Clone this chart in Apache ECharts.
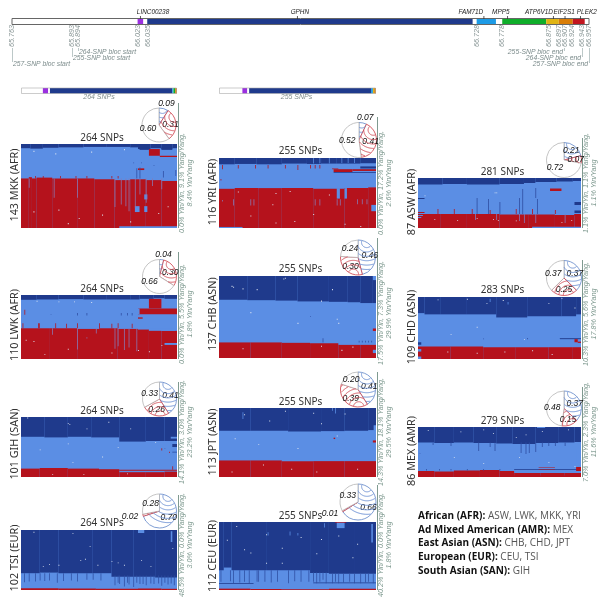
<!DOCTYPE html>
<html><head><meta charset="utf-8">
<style>html,body{margin:0;padding:0;background:#fff}#c{width:608px;height:601px}</style>
<script src="https://cdn.jsdelivr.net/npm/echarts@6/dist/echarts.min.js"></script>
</head><body><div id="c"></div>
<script>
// ---------- gene track data (genomic position, Mb) ----------
var geneBlocks=[[65.763,66.023,'w'],[66.023,66.035,'p'],[66.035,66.043,'w'],[66.043,66.717,'b'],[66.717,66.725,'w'],[66.725,66.765,'c'],[66.765,66.778,'w'],[66.778,66.869,'g'],[66.869,66.895,'y'],[66.895,66.924,'o'],[66.924,66.949,'r'],[66.949,66.957,'w']];
var geneTicks=[66.029,66.354,66.740,66.789,66.884,66.908,66.940];
var geneNamePositions=[66.055,66.359,66.713,66.775,66.854,66.906,66.953];
var geneNames=['LINC00238','GPHN','FAM71D','MPP5','ATP6V1D','EIF2S1','PLEK2'];
var tickPositions=[65.763,65.887,65.899,66.023,66.045,66.725,66.778,66.875,66.895,66.907,66.922,66.943,66.957];
var tickLabels=['65.763','65.893','65.894','66.023','66.035','66.728','66.778','66.875','66.897','66.907','66.924','66.943','66.957'];
var mini264=[[0,37,'w'],[37,46,'p'],[46,49,'w'],[49,256,'b'],[256,258,'c'],[258,261,'g'],[261,264,'o']];
var mini255=[[0,38,'w'],[38,46,'p'],[46,49,'w'],[49,247,'b'],[247,250,'c'],[250,252,'y'],[252,255,'o']];

// ---------- panel data: x and y are % of the haplotype panel ----------
var mkkDark=[[0,5],[6,5.5],[14,4.5],[24,4],[40,3.5],[55,3.5],[70,4],[75,6],[83,5],[90,6],[97,5]];
var mkkRed=[[0,41],[5,39.5],[7,41],[10,40],[20,41],[36,41],[47,42],[60,43],[70,42],[80,43],[90,44]];
var mkkBlocks=[[82,89,6,14,2],[89,100,14,15.5,2],[75,79,29,31,2],[63,100,98,100,1],[73,76,74,81,1],[79,81,74,81,1],[79,81,60,66,1],[76,82,4,7,0],[90,97,4,7,0]];
var mkkSpikes=[[9,38,41,2],[14,38,41,2],[25,38,41,2],[35,38,41,2],[42,38,41,2],[58,38,41,2],[62,38,41,2],[21,41,64,1],[36,41,64,1],[60,41,75,1],[64,41,72,1],[67,41,74,1],[69,41,80,1],[73,41,76,1],[76,41,60,1],[80,41,70,1],[84,41,50,1],[90,41,54,1],[5,41,52,1],[74,29,41,0],[76,28,41,0],[72,22,23,0],[77,22,23,0],[85,25,26,0],[91,32,40,0],[99,31,38,0]];
var mkkSpecks=[[8,8],[22,11],[45,9],[66,6],[8,80],[24,78],[37,88],[52,84],[70,92],[88,82],[94,74],[30,94]];

var lwkDark=[[0,7.5],[10,7],[24,6.5],[40,7],[55,7],[70,7],[76,6],[85,5],[92,6]];
var lwkRed=[[0,52],[18,52],[36,53],[50,52],[62,53],[75,54],[82,54],[90,56]];
var lwkBlocks=[[82,90,6,21,2],[75,100,21,30,2],[75,78,35,37,2],[82,99,53,56,1],[92,100,75,78,1],[75,76,21,30,1]];
var lwkSpikes=[[1,44,52,2],[11,44,52,2],[11.5,44,52,2],[22,44,52,2],[29,45,52,2],[36,44,52,2],[50,44,52,2],[58,45,52,2],[62,44,52,2],[71,45,52,2],[2.2,23,31,2],[36,52,85,1],[60,52,84,1],[62,52,80,1],[66,52,86,1],[69,52,82,1],[74,52,88,1],[20,52,62,1],[48,52,60,1],[36,28,32,0],[42,28,32,0],[64,28,32,0],[68,28,32,0],[71,28,32,0],[19,30,31,0],[42,66,68,1]];
var lwkSpecks=[[10,9],[24,10],[34,10],[45,11],[8,72],[3,70],[30,84],[58,90],[75,86],[90,78],[82,88],[15,92]];

var gihDark=[[0,33],[15,34],[30,33],[45,34],[63,41],[80,40],[92,40]];
var gihRed=[[0,86],[12,85],[30,86],[50,87],[63,92],[80,92],[92,91]];
var gihBlocks=[[97,100,45,50,0],[96,100,33,36,1],[63,100,88,89.5,2],[97,100,58,59,0]];
var gihSpikes=[[90,52,56,2],[92,52,53,0],[95,58,60,2],[97,82,88,2]];
var gihSpecks=[[4,1],[30,10],[31,12],[42,19],[56,8],[70,19],[12,54],[30,44],[52,66],[62,50],[86,42],[40,95],[68,94],[20,95],[33,75]];

var tsiDark=[[0,72],[12,71],[24,72],[46,72],[58,78],[72,78],[86,79]];
var tsiRed=[[0,97],[24,97.5],[48,98],[75,97.5],[90,98]];
var tsiBlocks=[[75,79,0,5,1],[96,97,2,20,1]];
var tsiSpikes=[[2,72,87,0],[5,72,86,0],[9,72,86,0],[12,72,84,0],[15,72,85,0],[18,72,84,0],[23,72,88,0],[27,72,85,0],[32,72,84,0],[36,72,86,0],[42,72,83,0],[46,72,83,0],[51,72,84,0],[60,76,92,0],[62,76,88,0],[63,76,90,0],[66,76,94,0],[68,76,88,0],[69,76,91,0],[72,76,95,0],[74,76,88,0],[76,76,90,0],[78,76,90,0],[80,76,92,0],[83,76,89,0],[85,76,90,0],[88,76,89,0],[90,76,93,0],[92,76,88,0],[94,76,91,0],[96,76,89,0],[98,76,92,0]];
var tsiSpecks=[[8,3],[33,5],[44,27],[41,48],[38,50],[18,57],[14,60],[24,58],[49,58],[58,52],[62,54],[66,58],[77,50],[83,60],[97,30]];

var yriDark=[[0,9],[10,8.5],[24,9],[40,8],[56,8.5],[65,8],[75,8],[90,7.5]];
var yriRed=[[0,44],[10,43],[25,43],[40,43],[60,44],[80,43],[95,42]];
var yriBlocks=[[73,85,16,20,2],[85,100,16,18.5,2],[73,100,20,21,0],[75,77,43,58,1],[80,81.5,43,58,1],[97,100,67,76,1],[0,15,98.5,100,1],[90,100,12,15,0],[72,76,15,16,2]];
var yriSpikes=[[2,10,16,2],[12,10,15,2],[23,10,15,2],[31,10,15,2],[42,10,15,2],[50,10,17,2],[58,10,15,2],[61,10,15,2],[64,10,15,2],[1,30,32,2],[60,0,8,1],[64,0,8,1],[70,0,8,1],[78,0,7,1],[82,0,7,1],[86,0,7,1],[20,59,68,1],[22,59,68,1],[61,59,68,1],[64,59,68,1],[75,59,68,1],[77,59,68,1],[88,59,66,1],[91,59,66,1],[94,59,66,1],[2,60,62,1],[9,59,68,1]];
var yriSpecks=[[12,48],[36,50],[34,66],[20,82],[48,90],[36,92],[60,80],[80,94],[90,97],[70,52],[45,47]];

var chbDark=[[0,29],[18,29.5],[36,30],[50,31],[70,31.5],[82,32],[90,33],[98,33]];
var chbRed=[[0,81],[20,81],[40,81.5],[58,82],[76,84],[90,84]];
var chbBlocks=[[98,100,64,67,2],[98,100,90,94,1],[98,100,0,5,1]];
var chbSpikes=[[89,79,81,0],[91,79,81,0],[93,79,81,0],[95,79,81,0],[97,79,81,0],[66,76,81,0],[58,49,50,0]];
var chbSpecks=[[8,12],[9,13],[15,15],[24,16],[41,3],[42,2],[72,16],[65,30],[20,44],[50,57],[75,52],[76,57],[65,85],[15,88],[78,90],[85,86]];

var jptDark=[[0,33],[20,33],[44,34],[65,33.5],[80,33],[95,32]];
var jptRed=[[0,76],[20,76],[40,77],[60,77],[80,77]];
var jptBlocks=[[98.5,100,25,33,1],[98,100,47,50,2],[73,74,43,45,2]];
var jptSpikes=[[15,6,16,1],[72,0,4,1],[74,0,8,1]];
var jptSpecks=[[16,9],[32,18],[42,4],[60,7],[65,22],[80,8],[25,52],[10,44],[50,58],[75,40],[28,82],[46,88],[62,92],[8,92],[88,88]];

var ceuDark=[[0,71],[3,67],[8,71],[30,71],[58,75],[70,76],[86,76]];
var ceuRed=[[0,98],[20,98.5],[40,99],[70,98]];
var ceuBlocks=[[75,80,0,9,1],[74,81,0,1,2],[97,98,3,30,1],[0,22,90,91,0],[60,100,89,90,0]];
var ceuSpikes=[[1,71,88,0],[7,71,87,0],[9,71,90,0],[13,71,89,0],[16,71,88,0],[19,71,90,0],[24,71,88,0],[25,71,88,0],[29,71,88,0],[33,71,89,0],[37,71,88,0],[44,71,90,0],[48,71,87,0],[52,71,88,0],[57,71,88,0],[60,74,88,0],[62,74,90,0],[64,74,88,0],[66,74,85,0],[68,74,90,0],[72,76,90,0],[74,76,88,0],[76,76,90,0],[79,76,89,0],[83,76,88,0],[86,76,90,0],[90,76,90,0],[93,76,89,0],[95,76,88,0],[98,76,90,0],[67,2,8,1],[31,15,20,1],[45,14,20,1],[50,16,20,1]];
var ceuSpecks=[[11,6],[30,18],[16,40],[20,45],[40,38],[40,60],[52,22],[62,46],[85,52],[65,25],[76,20],[88,32],[5,26],[30,60]];

var aswDark=[[0,13],[15,12],[30,13],[50,12],[65,10],[72,8],[85,7],[95,6]];
var aswRed=[[0,72],[14,72],[30,72],[50,73],[68,73],[84,74],[96,72]];
var aswBlocks=[[81,88,21,26,2],[0,4,68,70,2],[0,3,74,76,1],[0,2,78,80,1],[70,100,97.5,100,1],[96,100,65,70,0],[96,100,72,76,2],[96,100,48,54,0],[0,4,40,42,0]];
var aswSpikes=[[36,40,72,0],[43,42,72,0],[50,48,72,0],[62,40,72,0],[64,22,72,0],[73,42,72,0],[72,20,40,0],[65,72,90,1],[35,72,84,1],[48,72,84,1],[62,72,86,1],[72,72,90,1],[90,72,90,1],[12,62,72,2],[22,62,72,2],[33,62,72,2],[44,64,72,2],[60,62,72,2],[70,62,72,2],[84,64,72,2]];
var aswSpecks=[[10,82],[24,84],[36,80],[46,82],[49,84],[60,85],[88,88],[94,84],[47,29],[48,29],[4,35]];

var chdDark=[[0,26],[4,28],[14,28],[30,28],[48,33],[67,31],[88,31],[97,28]];
var chdRed=[[0,80],[20,80],[40,81],[60,81],[80,81],[95,81]];
var chdBlocks=[[0,2,73,77,0],[87,100,66.5,68,0],[96,98,68,73,2],[98,100,74,80,1],[98,100,72,74,2],[0,2,96,100,1],[0,2,84,88,1],[97,100,83,90,2]];
var chdSpikes=[[44,3,8,1],[55,8,12,1],[40,67,68,0],[67,66,68,0]];
var chdSpecks=[[12,4],[30,3],[42,10],[52,5],[80,10],[88,2],[96,17],[20,60],[36,48],[65,68],[36,90],[18,88],[53,88],[70,86],[82,92]];

var mexDark=[[0,31],[10,32],[22,31],[34,32],[48,33],[58,34],[72,32],[86,31],[96,30]];
var mexRed=[[0,88],[10,89],[22,87],[38,86],[50,88],[59,92],[75,92],[90,92]];
var mexBlocks=[[59,100,84,85.5,0],[59,100,89,90,1],[74,84,80,81,2],[74,84,85,86,2],[73,78,0,2,1],[97,100,80,88,2],[59,100,97,100,2]];
var mexSpikes=[[9,31,36,0],[20,31,38,0],[37,31,48,0],[44,31,40,0],[47,31,48,0],[63,31,52,0],[66,31,54,0],[68,31,52,0],[72,31,50,0],[76,31,40,0],[80,31,38,0],[84,31,38,0],[90,31,38,0],[5,84,87,0],[13,84,87,0],[20,84,87,0],[30,84,87,0],[40,84,87,0],[50,84,87,0],[97,44,70,1],[1,52,53,0]];
var mexSpecks=[[6,6],[26,9],[40,5],[46,12],[60,20],[66,15],[76,8],[92,5],[22,60],[40,72],[62,60],[80,70],[96,78]];

// ---------- LD pies (Yang/Yang share, Yin/Yin share, white share) ----------
var mkkPie=[0.09,0.31,0.60], lwkPie=[0.04,0.30,0.66], gihPie=[0.41,0.26,0.33], tsiPie=[0.70,0.02,0.28];
var yriPie=[0.07,0.41,0.52], chbPie=[0.46,0.30,0.24], jptPie=[0.41,0.39,0.20], ceuPie=[0.66,0.01,0.33];
var aswPie=[0.21,0.07,0.72], chdPie=[0.37,0.25,0.37], mexPie=[0.37,0.15,0.48];

// ---------- texts ----------
var legendHeads=['African (AFR):','Ad Mixed American (AMR):','East Asian (ASN):','European (EUR):','South Asian (SAN):'];
var legendItems=['ASW, LWK, MKK, YRI','MEX','CHB, CHD, JPT','CEU, TSI','GIH'];

// ---------- layout and style ----------
var palette=['#1f3a8c','#5b8ee4','#b5121c','#dfe6f2','#8a78b2','#2f4fa3'];
var geneColors={w:'#ffffff',p:'#9b30e0',b:'#1f3a8c',c:'#1d9be6',g:'#0fae2a',y:'#e0b414',o:'#d97d06',r:'#c2141e'};
var panels=[
 {n:'143 MKK (AFR)',snp:'264 SNPs',x:21,y:144,w:156,h:84,ax:178,at:103,lx:15,ly:185,ty:138,pc:[159,125],r:17,dark:mkkDark,red:mkkRed,blocks:mkkBlocks,spikes:mkkSpikes,specks:mkkSpecks,pie:mkkPie,s:'0.0% Yin/Yin, 9.1% Yang/Yang,\n8.4% Yin/Yang'},
 {n:'110 LWK (AFR)',snp:'264 SNPs',x:21,y:295,w:156,h:64,ax:178,at:252,lx:15,ly:325,ty:289,pc:[159.5,276.5],r:17,dark:lwkDark,red:lwkRed,blocks:lwkBlocks,spikes:lwkSpikes,specks:lwkSpecks,pie:lwkPie,s:'0.0% Yin/Yin, 5.5% Yang/Yang,\n1.8% Yin/Yang'},
 {n:'101 GIH (SAN)',snp:'264 SNPs',x:21,y:417,w:156,h:60,ax:178,at:382,lx:15,ly:444,ty:411,pc:[159.5,399],r:17,dark:gihDark,red:gihRed,blocks:gihBlocks,spikes:gihSpikes,specks:gihSpecks,pie:gihPie,s:'14.1% Yin/Yin, 3.0% Yang/Yang,\n23.2% Yin/Yang'},
 {n:'102 TSI (EUR)',snp:'264 SNPs',x:21,y:530,w:156,h:60,ax:178,at:495,lx:15,ly:558,ty:523,pc:[159.5,511],r:17,dark:tsiDark,red:tsiRed,blocks:tsiBlocks,spikes:tsiSpikes,specks:tsiSpecks,pie:tsiPie,s:'48.5% Yin/Yin, 0.0% Yang/Yang,\n3.0% Yin/Yang'},
 {n:'116 YRI (AFR)',snp:'255 SNPs',x:219,y:158,w:157,h:70,ax:377,at:117,lx:213,ly:192,ty:151,pc:[359,140],r:17.5,dark:yriDark,red:yriRed,blocks:yriBlocks,spikes:yriSpikes,specks:yriSpecks,pie:yriPie,s:'0.0% Yin/Yin, 17.2% Yang/Yang,\n2.6% Yin/Yang'},
 {n:'137 CHB (ASN)',snp:'255 SNPs',x:219,y:276,w:157,h:82,ax:377,at:238,lx:213,ly:314,ty:269,pc:[358,257.5],r:17.5,dark:chbDark,red:chbRed,blocks:chbBlocks,spikes:chbSpikes,specks:chbSpecks,pie:chbPie,s:'17.5% Yin/Yin, 7.3% Yang/Yang,\n29.9% Yin/Yang'},
 {n:'113 JPT (ASN)',snp:'255 SNPs',x:219,y:408,w:157,h:69,ax:377,at:372,lx:213,ly:442,ty:402,pc:[358,389.5],r:17.5,dark:jptDark,red:jptRed,blocks:jptBlocks,spikes:jptSpikes,specks:jptSpecks,pie:jptPie,s:'14.3% Yin/Yin, 18.1% Yang/Yang,\n29.5% Yin/Yang'},
 {n:'112 CEU (EUR)',snp:'255 SNPs',x:219,y:522,w:157,h:68,ax:377,at:485,lx:213,ly:556,ty:516,pc:[358,502],r:18,dark:ceuDark,red:ceuRed,blocks:ceuBlocks,spikes:ceuSpikes,specks:ceuSpecks,pie:ceuPie,s:'40.2% Yin/Yin, 0.0% Yang/Yang,\n1.8% Yin/Yang'},
 {n:'87 ASW (AFR)',snp:'281 SNPs',x:418,y:178,w:163,h:50,ax:582,at:138,lx:412,ly:202,ty:172,pc:[564,160],r:17.5,dark:aswDark,red:aswRed,blocks:aswBlocks,spikes:aswSpikes,specks:aswSpecks,pie:aswPie,s:'1.1% Yin/Yin, 1.1% Yang/Yang,\n1.1% Yin/Yang'},
 {n:'109 CHD (ASN)',snp:'283 SNPs',x:418,y:297,w:163,h:62,ax:582,at:260,lx:412,ly:327,ty:290,pc:[564,278],r:17.5,dark:chdDark,red:chdRed,blocks:chdBlocks,spikes:chdSpikes,specks:chdSpecks,pie:chdPie,s:'10.3% Yin/Yin, 5.6% Yang/Yang,\n17.8% Yin/Yang'},
 {n:'86 MEX (AMR)',snp:'279 SNPs',x:418,y:427,w:163,h:50,ax:582,at:387,lx:412,ly:451,ty:421,pc:[564,408.5],r:17.5,dark:mexDark,red:mexRed,blocks:mexBlocks,spikes:mexSpikes,specks:mexSpecks,pie:mexPie,s:'7.0% Yin/Yin, 2.3% Yang/Yang,\n11.6% Yin/Yang'}
];

var grids=[],xAxes=[],yAxes=[],series=[],graphics=[];
function addGrid(l,t,w,h,xmin,xmax,ymin,ymax,inv){
  grids.push({left:l,top:t,width:w,height:h,containLabel:false});
  xAxes.push({type:'value',gridIndex:grids.length-1,min:xmin,max:xmax,show:false});
  yAxes.push({type:'value',gridIndex:grids.length-1,min:ymin,max:ymax,show:false,inverse:!!inv});
  return grids.length-1;
}
function stepRows(steps,fromTop){
  return steps.map(function(s,i){var end=i+1<steps.length?steps[i+1][0]:100;
    return fromTop?[s[0],end,0,s[1]]:[s[0],end,s[1],100];});
}
function text(x,y,t,size,fill,o){
  o=o||{};
  graphics.push({type:'text',x:x,y:y,rotation:o.rot||0,silent:true,z:20,style:{text:t,fontSize:size,fontFamily:o.fam||'"Liberation Sans"',fontStyle:o.ital?'italic':'normal',fontWeight:o.w||'normal',fill:fill,align:o.align||'center',verticalAlign:'middle',lineHeight:o.lh,rich:o.rich}});
}
function vline(x,y0,y1,col,wd){graphics.push({type:'line',silent:true,z:5,shape:{x1:x,y1:y0,x2:x,y2:y1},style:{stroke:col,lineWidth:wd||1}});}

// gene track: y axis counts pixels of the top strip
var gg=addGrid(0,0,608,100,65.763-12/483,65.763+596/483,0,100,true);
function blockRows(list,y0,y1){return list.map(function(b){return [b[0],b[1],y0,y1,b[2]];});}
var trackDim=['x0','x1','y0','y1','k'];
function geneRect(p,api){
  var a=api.coord([api.value(0),api.value(2)]),b=api.coord([api.value(1),api.value(3)]);
  return {type:'rect',shape:{x:a[0],y:a[1],width:b[0]-a[0],height:b[1]-a[1]},style:{fill:geneColors[api.value(4)]}};
}
series.push({type:'custom',xAxisIndex:gg,yAxisIndex:gg,silent:true,z:4,dimensions:trackDim,encode:{x:[0,1],y:[2,3]},
  data:blockRows(geneBlocks,19,24),renderItem:geneRect});
graphics.push({type:'rect',silent:true,z:6,shape:{x:12,y:18.5,width:577,height:6},style:{fill:'none',stroke:'#666',lineWidth:1}});
series.push({type:'custom',xAxisIndex:gg,yAxisIndex:gg,silent:true,z:7,dimensions:['x','t'],encode:{x:0},
  data:tickPositions.map(function(v,i){return [v,tickLabels[i]];}),
  renderItem:function(p,api){
    var c=api.coord([api.value(0),36]);
    return {type:'text',x:c[0],y:c[1],rotation:Math.PI/2,style:{text:tickLabels[p.dataIndex],fontSize:7.2,fontStyle:'italic',fontFamily:'"Liberation Sans"',fill:'#8a9797',align:'center',verticalAlign:'middle'}};
  }});
series.push({type:'custom',xAxisIndex:gg,yAxisIndex:gg,silent:true,z:7,dimensions:['x','nx'],encode:{x:0},
  data:geneTicks.map(function(v,i){return [v,geneNamePositions[i]];}),
  renderItem:function(p,api){
    var t=api.coord([api.value(0),19]),c=api.coord([api.value(1),12.5]);
    return {type:'group',children:[
      {type:'line',shape:{x1:t[0],y1:16,x2:t[0],y2:t[1]},style:{stroke:'#333',lineWidth:.8}},
      {type:'text',x:c[0],y:c[1],style:{text:geneNames[p.dataIndex],fontSize:6.4,fontStyle:'italic',fontFamily:'"Liberation Sans"',fill:'#222',align:'center',verticalAlign:'middle'}}
    ]};
  }});
// bloc annotations
var blocNotes=[['257-SNP bloc start',13,64.5,'left'],['255-SNP bloc start',73,58.5,'left'],['264-SNP bloc start',79,52.5,'left'],['255-SNP bloc end',563,52.5,'right'],['264-SNP bloc end',581,58.5,'right'],['257-SNP bloc end',588,64.5,'right']];
blocNotes.forEach(function(b){text(b[1],b[2],b[0],6.8,'#7a8a8a',{ital:true,align:b[3]});});
vline(12.5,48,62,'#bcc8c8');vline(72.5,48,57,'#bcc8c8');vline(78.5,48,51,'#bcc8c8');
vline(564.5,48,51,'#bcc8c8');vline(582.5,48,57,'#bcc8c8');vline(589.5,48,63,'#bcc8c8');

// mini tracks
[[21,156,264,mini264,'264 SNPs'],[219,157,255,mini255,'255 SNPs']].forEach(function(m){
  var g=addGrid(m[0],88,m[1],5.5,0,m[2],0,1,true);
  series.push({type:'custom',xAxisIndex:g,yAxisIndex:g,silent:true,z:4,dimensions:trackDim,encode:{x:[0,1],y:[2,3]},
    data:blockRows(m[3],0,1),renderItem:geneRect});
  graphics.push({type:'rect',silent:true,z:6,shape:{x:m[0]+.5,y:88,width:m[1]-1,height:5.5},style:{fill:'none',stroke:'#aaa',lineWidth:.6}});
  text(m[0]+m[1]/2-(m[0]===21?0:1),97.5,m[4],7,'#7f8c8c',{ital:true});
});

// haplotype panels + pies
function panelRect(p,api){
  var a=api.coord([api.value(0),api.value(2)]),b=api.coord([api.value(1),api.value(3)]);
  return {type:'rect',shape:{x:a[0],y:a[1],width:b[0]-a[0],height:b[1]-a[1]},style:{fill:palette[api.value(4)]}};
}
panels.forEach(function(P){
  var g=addGrid(P.x,P.y,P.w,P.h,0,100,0,100,true);
  var rows=[[0,100,0,100,1]];
  stepRows(P.dark,true).forEach(function(r){rows.push(r.concat(0));});
  stepRows(P.red,false).forEach(function(r){rows.push(r.concat(2));});
  P.blocks.forEach(function(b){rows.push(b);});
  P.spikes.forEach(function(s){
    var c=s[3];
    if(c===1&&s[1]>=P.red[0][1]-3)c=4;   // light streaks over red read as a muted mix
    else if(c===0)c=5;                   // dark streaks over light
    rows.push([s[0],s[0]+0.5,s[1],s[2],c]);
  });
  P.specks.forEach(function(s){rows.push([s[0],s[0]+0.6,s[1],s[1]+1.4,3]);});
  series.push({type:'custom',xAxisIndex:g,yAxisIndex:g,silent:true,z:3,progressive:0,dimensions:['x0','x1','y0','y1','c'],encode:{x:[0,1],y:[2,3]},data:rows,renderItem:panelRect});

  vline(P.ax+.5,P.at,P.y+P.h,'#7f9a90');
  text(P.lx,P.ly,P.n,10.8,'#333',{rot:Math.PI/2,fam:'"Noto Sans"'});
  text(P.x+P.w/2+3,P.ty,P.snp,10,'#333',{fam:'"Noto Sans"'});
  text(P.ax+8,P.y+P.h-45,P.s,7.2,'#7f9a90',{rot:Math.PI/2,ital:true,lh:8});

  // pie: wedges start at 12 o'clock, clockwise
  var cols=['#5f85c8','#cc3a44','#b5b5b5'];
  series.push({type:'pie',center:P.pc,radius:[0,P.r],startAngle:90,clockwise:true,silent:true,z:8,animation:false,avoidLabelOverlap:false,minAngle:0,percentPrecision:2,
    labelLayout:function(o){var v=P.pie[o.dataIndex];return (o.dataIndex===0&&v<0.1)?{dx:-7}:{};},
    data:P.pie.map(function(v,i){var small=(v<0.05)||(i===0&&v<0.1);return {value:v,
      itemStyle:{color:'#fff',borderColor:cols[i],borderWidth:.8},
      label:{show:true,position:small?'outside':'inside',formatter:function(o){return o.value.toFixed(2);},fontSize:8.5,fontStyle:'italic',fontFamily:'"Liberation Sans"',color:'#111',distanceToLabelLine:0},
      labelLine:{show:false,length:small?5:1,length2:0}};})});

  // contour arcs inside the two coloured wedges, on a small unit grid over the pie
  var pg=addGrid(P.pc[0]-P.r,P.pc[1]-P.r,2*P.r,2*P.r,-1,1,-1,1,false);
  var acc=0,wedges=[];
  var total=P.pie[0]+P.pie[1]+P.pie[2];
  [0,1].forEach(function(i){wedges.push([acc,acc+P.pie[i]/total,i]);acc+=P.pie[i]/total;});
  series.push({type:'custom',xAxisIndex:pg,yAxisIndex:pg,silent:true,z:9,dimensions:['s','e','c'],encode:{x:0},data:wedges,
    renderItem:function(p,api){
      var s=api.value(0)*2*Math.PI,e=api.value(1)*2*Math.PI,col=api.value(2)?'#d4525c':'#6f93d6';
      var d=Math.min((e-s)*.35,Math.PI/6),cx=Math.sin(s+d),cy=Math.cos(s+d),ch=[];
      [.3,.55,.8,1.05,1.3,1.55].forEach(function(rad){
        var seg=[];
        function flush(){if(seg.length>1)ch.push({type:'polyline',shape:{points:seg},style:{stroke:col,lineWidth:1,fill:'none'}});seg=[];}
        for(var k=0;k<=240;k++){
          var t=k/240*2*Math.PI,x=cx+rad*Math.sin(t),y=cy+rad*Math.cos(t);
          var a=Math.atan2(x,y);if(a<0)a+=2*Math.PI;
          if(x*x+y*y<=.97&&a>=s&&a<=e)seg.push(api.coord([x,y]));else flush();
        }
        flush();
      });
      return {type:'group',children:ch};
    }});
});

// population legend
legendHeads.forEach(function(h,i){
  text(418,516+i*13.8,'{b|'+h+'} {r|'+legendItems[i]+'}',10,'#111',{align:'left',fam:'"Open Sans"',rich:{
    b:{fontFamily:'"Open Sans"',fontWeight:'bold',fontSize:10,fill:'#111'},
    r:{fontFamily:'"Open Sans"',fontSize:10,fill:'#555'}}});
});

var chart=echarts.init(document.getElementById('c'),null,{renderer:'canvas'});
chart.setOption({animation:false,backgroundColor:'#fff',grid:grids,xAxis:xAxes,yAxis:yAxes,series:series,graphic:{elements:graphics}});
</script></body></html>
